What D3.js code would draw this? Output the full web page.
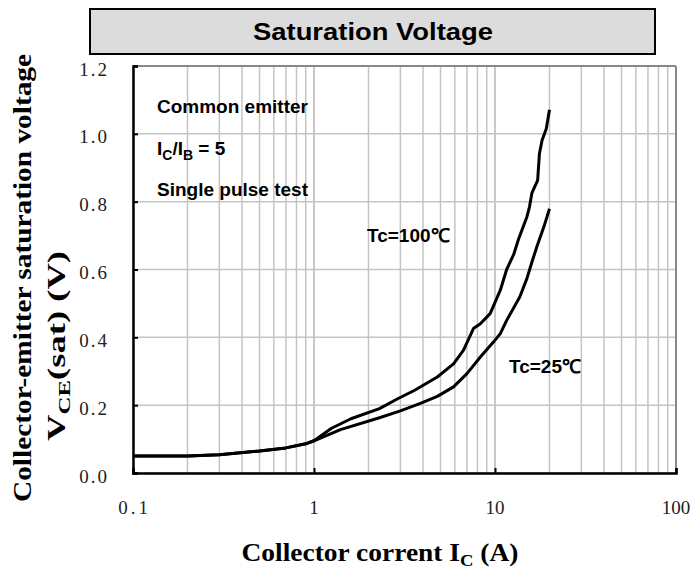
<!DOCTYPE html>
<html>
<head>
<meta charset="utf-8">
<script src="https://cdn.jsdelivr.net/npm/d3@7"></script>
<style>
  body { margin: 0; background: #fff; }
</style>
</head>
<body>
<div id="chart"></div>
<script>
// Ic (A) vs VCE(sat) (V)
const ic100 = [0.1, 0.2, 0.3, 0.5, 0.7, 0.9, 1.0, 1.25, 1.6, 2.3, 2.9, 3.6, 4.8, 5.9, 6.7, 7.6, 8.3, 9.4, 10.7, 11.6, 12.7, 13.5, 15.0, 15.5, 16.0, 17.2, 17.6, 18.2, 19.2, 20];
const vce100 = [0.05, 0.05, 0.054, 0.065, 0.074, 0.086, 0.095, 0.132, 0.16, 0.19, 0.219, 0.244, 0.283, 0.322, 0.362, 0.426, 0.44, 0.47, 0.539, 0.6, 0.645, 0.69, 0.755, 0.784, 0.826, 0.863, 0.942, 0.981, 1.015, 1.071];
const ic25 = [0.1, 0.2, 0.3, 0.5, 0.7, 0.9, 1.0, 1.4, 2.3, 3.0, 3.9, 4.8, 5.9, 7.0, 8.3, 9.8, 10.7, 11.6, 13.7, 15.0, 16.0, 17.1, 18.6, 20];
const vce25 = [0.05, 0.05, 0.054, 0.065, 0.074, 0.086, 0.095, 0.128, 0.163, 0.183, 0.206, 0.226, 0.254, 0.293, 0.342, 0.386, 0.411, 0.45, 0.519, 0.573, 0.622, 0.67, 0.725, 0.779];
const xTicks = [0.1, 1, 10, 100];
const yTicks = [0, 0.2, 0.4, 0.6, 0.8, 1.0, 1.2];

const width = 694;
const height = 569;
const margin = {top: 66, right: 18, bottom: 96, left: 133};

const svg = d3.select('#chart')
  .append('svg')
  .attr('width', width)
  .attr('height', height);

const x = d3.scaleLog()
  .domain([0.1, 100])
  .range([margin.left, width - margin.right]);

const y = d3.scaleLinear()
  .domain([0, 1.2])
  .range([height - margin.bottom, margin.top]);

const sans = 'Liberation Sans, Arial, sans-serif';
const serif = 'Liberation Serif, Times New Roman, serif';

// title box
svg.append('rect')
  .attr('x', 90).attr('y', 9)
  .attr('width', 565).attr('height', 45)
  .attr('fill', '#dcdcdc')
  .attr('stroke', '#000')
  .attr('stroke-width', 2);
svg.append('text')
  .attr('x', 373).attr('y', 40)
  .attr('text-anchor', 'middle')
  .attr('font-family', sans)
  .attr('font-weight', 'bold')
  .attr('font-size', 24)
  .attr('textLength', 240)
  .attr('lengthAdjust', 'spacingAndGlyphs')
  .text('Saturation Voltage');

// grid
const minor = [];
for (let d = 0.1; d < 100; d *= 10) {
  for (let k = 1; k <= 10; k++) minor.push(+(d * k).toPrecision(3));
}
svg.append('g')
  .selectAll('line')
  .data(minor)
  .join('line')
    .attr('x1', d => x(d)).attr('x2', d => x(d))
    .attr('y1', y(0)).attr('y2', y(1.2))
    .attr('stroke', '#c4c4c4')
    .attr('stroke-width', 1.5);
svg.append('g')
  .selectAll('line')
  .data(yTicks)
  .join('line')
    .attr('x1', x(0.1)).attr('x2', x(100))
    .attr('y1', d => y(d)).attr('y2', d => y(d))
    .attr('stroke', '#c4c4c4')
    .attr('stroke-width', 1.5);

// frame: top/right gray, left/bottom black
svg.append('line')
  .attr('x1', x(0.1)).attr('x2', x(100))
  .attr('y1', y(1.2)).attr('y2', y(1.2))
  .attr('stroke', '#888').attr('stroke-width', 2);
svg.append('line')
  .attr('x1', x(100)).attr('x2', x(100))
  .attr('y1', y(1.2)).attr('y2', y(0))
  .attr('stroke', '#888').attr('stroke-width', 2);

function xAxis(g) {
  g.attr('transform', `translate(0, ${y(0)})`)
    .call(d3.axisTop(x).tickValues(xTicks).tickSize(5).tickFormat(''))
    .call(g => g.select('.domain').attr('stroke-width', 2.5));
  g.selectAll('.tick line').attr('stroke-width', 2);
}
function yAxis(g) {
  g.attr('transform', `translate(${x(0.1)}, 0)`)
    .call(d3.axisRight(y).tickValues(yTicks).tickSize(5).tickFormat(''))
    .call(g => g.select('.domain').attr('stroke-width', 2.5));
  g.selectAll('.tick line').attr('stroke-width', 2);
}
svg.append('g').call(xAxis);
svg.append('g').call(yAxis);

// tick labels (serif, like the original)
svg.append('g')
  .selectAll('text')
  .data(yTicks)
  .join('text')
    .attr('x', 109)
    .attr('y', d => y(d) + 3)
    .attr('dy', '0.35em')
    .attr('text-anchor', 'end')
    .attr('font-family', serif)
    .attr('font-size', 19)
    .attr('letter-spacing', 2)
    .attr('fill', '#222')
    .text(d => d.toFixed(1));
svg.append('g')
  .selectAll('text')
  .data(xTicks)
  .join('text')
    .attr('x', d => x(d) + (d < 1 ? 1.5 : 0))
    .attr('y', 507)
    .attr('dy', '0.35em')
    .attr('text-anchor', 'middle')
    .attr('font-family', serif)
    .attr('font-size', 19)
    .attr('letter-spacing', d => d < 1 ? 3 : 0)
    .attr('fill', '#222')
    .text(d => String(d));

// axis titles
const xt = svg.append('text')
  .attr('x', 380).attr('y', 561)
  .attr('text-anchor', 'middle')
  .attr('font-family', serif)
  .attr('font-weight', 'bold')
  .attr('font-size', 25)
  .attr('textLength', 277)
  .attr('lengthAdjust', 'spacingAndGlyphs');
xt.append('tspan').text('Collector corrent I');
xt.append('tspan').attr('font-size', 17).attr('dy', 5).text('C');
xt.append('tspan').attr('dy', -5).text(' (A)');

svg.append('text')
  .attr('transform', 'translate(31, 278) rotate(-90)')
  .attr('text-anchor', 'middle')
  .attr('font-family', serif)
  .attr('font-weight', 'bold')
  .attr('font-size', 25)
  .attr('textLength', 448)
  .attr('lengthAdjust', 'spacingAndGlyphs')
  .text('Collector-emitter saturation voltage');
const yt = svg.append('text')
  .attr('transform', 'translate(65, 346) rotate(-90)')
  .attr('text-anchor', 'middle')
  .attr('font-family', serif)
  .attr('font-weight', 'bold')
  .attr('font-size', 25)
  .attr('textLength', 190)
  .attr('lengthAdjust', 'spacingAndGlyphs');
yt.append('tspan').text('V');
yt.append('tspan').attr('font-size', 17).attr('dy', 5).text('CE');
yt.append('tspan').attr('dy', -5).text('(sat) (V)');

// curves
const line = d3.line()
  .x(d => x(d[0]))
  .y(d => y(d[1]));
const series = [
  d3.zip(ic100, vce100),
  d3.zip(ic25, vce25)
];
svg.append('g')
  .selectAll('path')
  .data(series)
  .join('path')
    .attr('d', line)
    .attr('fill', 'none')
    .attr('stroke', '#000')
    .attr('stroke-width', 3)
    .attr('stroke-linejoin', 'round');

// annotations
function note(tx, ty, parts) {
  const t = svg.append('text')
    .attr('x', tx).attr('y', ty)
    .attr('font-family', sans)
    .attr('font-weight', 'bold')
    .attr('font-size', 19);
  parts.forEach(p => {
    const s = t.append('tspan').text(p[0]);
    if (p[1]) s.attr('font-size', 14).attr('dy', p[1]);
    if (p[2]) s.attr('dy', p[2]);
  });
}
note(157, 113, [['Common emitter']]);
note(157, 155, [['I'], ['C', 5], ['/I', 0, -5], ['B', 5], [' = 5', 0, -5]]);
note(157, 196, [['Single pulse test']]);
note(367, 242, [['Tc=100℃']]);
note(509, 373, [['Tc=25℃']]);
</script>
</body>
</html>
